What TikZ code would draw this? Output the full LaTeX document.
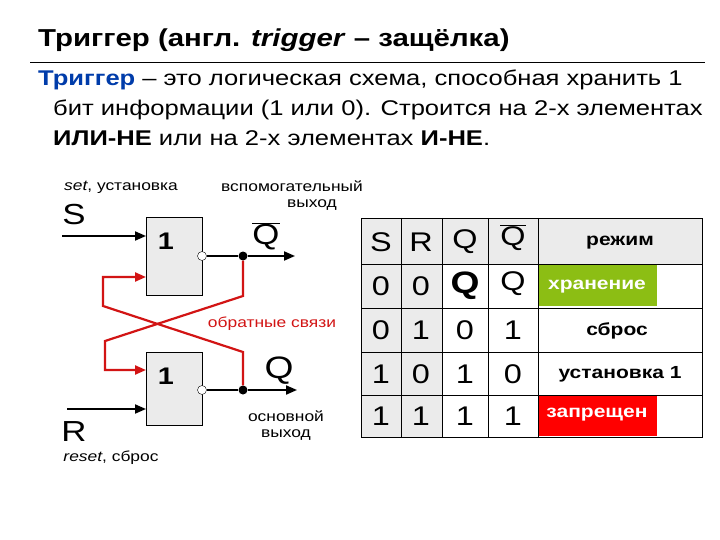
\documentclass[tikz,border=0pt]{standalone}
\usepackage{fontspec}
\usepackage{graphicx}
\setmainfont{Liberation Sans}
\usetikzlibrary{arrows.meta}
\newcommand\hs[1]{\scalebox{1.2}[1]{#1}}
\definecolor{hgrey}{RGB}{235,235,235}
\definecolor{tblue}{RGB}{0,60,170}
\definecolor{fred}{RGB}{210,20,20}
\definecolor{okgreen}{RGB}{140,190,20}
\begin{document}
\begin{tikzpicture}[x=1pt,y=-1pt,
  gate/.style={draw,fill=hgrey,line width=1pt},
  wire/.style={line width=2pt,-{Triangle[length=11pt,width=9pt]}},
  fb/.style={draw=fred,line width=2.2pt},
  fbarrow/.style={fb,-{Triangle[length=11pt,width=9pt]}},
  bubble/.style={circle,draw,fill=white,inner sep=0pt,minimum size=9pt},
  dotn/.style={circle,fill=black,inner sep=0pt,minimum size=9pt},
  lbl/.style={font=\fontsize{14.5}{16}\selectfont,align=center},
  cell/.style={font=\fontsize{27}{29}\selectfont},
  tcell/.style={font=\fontsize{17.5}{19}\selectfont\bfseries}]
\useasboundingbox (0,0) rectangle (720,540);
\fill[white] (0,0) rectangle (720,540);
% title
\node[anchor=west,font=\fontsize{24.5}{27}\selectfont\bfseries,inner sep=0pt] (title) at (38,40) {\hs{Триггер (англ. \textit{trigger} – защёлка)}};
\draw[line width=1pt] (30,63) -- (705,63);
\node[anchor=north west,align=left,font=\fontsize{21.3}{30}\selectfont,inner sep=0pt] (body) at (38,70)
{\hs{\textcolor{tblue}{\textbf{Триггер}} – это логическая схема, способная хранить 1}\\
\hspace*{15pt}\hs{бит информации (1 или 0). Строится на 2-х элементах}\\
\hspace*{15pt}\hs{\textbf{ИЛИ-НЕ} или на 2-х элементах \textbf{И-НЕ}.}};
% gates
\draw[gate] (146,218) rectangle (202,295);
\draw[gate] (146,352) rectangle (202,425);
\node[font=\fontsize{24}{26}\selectfont\bfseries] (g1) at (166,241) {\hs{1}};
\node[font=\fontsize{24}{26}\selectfont\bfseries] (g2) at (166,376) {\hs{1}};
\node[bubble] (b1) at (202,256) {};
\node[bubble] (b2) at (202,390) {};
\node[dotn] (d1) at (243,256) {};
\node[dotn] (d2) at (243,390) {};
\coordinate (o1) at (295,256);
\coordinate (o2) at (297,390);
\coordinate (sin) at (62,236);
\coordinate (sg) at (146,236);
\coordinate (rin) at (67,409);
\coordinate (rg) at (146,409);
\draw[line width=2pt] (b1) -- (d1);
\draw[wire] (d1) -- (o1);
\draw[line width=2pt] (b2) -- (d2);
\draw[wire] (d2) -- (o2);
\draw[wire] (sin) -- (sg);
\draw[wire] (rin) -- (rg);
% feedback
\coordinate (fa1) at (243,296);
\coordinate (fa2) at (105,341);
\coordinate (fa3) at (105,370);
\coordinate (fa4) at (146,370);
\coordinate (fb1) at (243,352);
\coordinate (fb2) at (103,306);
\coordinate (fb3) at (103,277);
\coordinate (fb4) at (146,277);
\draw[fbarrow] (d1.south) -- (fa1) -- (fa2) -- (fa3) -- (fa4);
\draw[fbarrow] (d2.north) -- (fb1) -- (fb2) -- (fb3) -- (fb4);
% labels
\node[lbl] (setl) at (121,187) {\hs{\textit{set}, установка}};
\node[font=\fontsize{29}{31}\selectfont] (S) at (74,215) {\hs{S}};
\node[lbl] (aux) at (292,196) {\hs{вспомогательный}\\\hspace*{40pt}\hs{выход}};
\node[font=\fontsize{29}{31}\selectfont] (qb) at (266,236) {$\overline{\mbox{\hs{Q}}}$};
\node[lbl,text=fred] (fbl) at (272,324) {\hs{обратные связи}};
\node[font=\fontsize{31}{33}\selectfont] (q) at (279,371) {\hs{Q}};
\node[lbl] (main) at (286,426) {\hs{основной}\\\hs{выход}};
\node[font=\fontsize{29}{31}\selectfont] (R) at (74,432) {\hs{R}};
\node[lbl] (resl) at (111,458) {\hs{\textit{reset}, сброс}};
% table
\fill[hgrey] (361,218) rectangle (442,437);
\fill[hgrey] (442,218) rectangle (702,264);
\fill[okgreen] (538,265) rectangle (657,306);
\fill[red] (538,396) rectangle (657,436);
\draw[line width=0.8pt] (361,218) rectangle (702,437);
\foreach \x in {401,442,488,538} \draw[line width=0.8pt] (\x,218) -- (\x,437);
\foreach \y in {264,308,352,395} \draw[line width=0.8pt] (361,\y) -- (702,\y);
\node[cell] (h1) at (381,242) {\hs{S}};
\node[cell] (h2) at (421,242) {\hs{R}};
\node[cell] (h3) at (465,242) {\hs{Q}};
\node[cell] (h4) at (513,238) {$\overline{\mbox{\hs{Q}}}$};
\node[tcell] (h5) at (620,243) {\hs{режим}};
\foreach \r/\y/\a/\b/\c/\d in {1/286/0/0/{}/{},2/330/0/1/0/1,3/374/1/0/1/0,4/416/1/1/1/1}{
  \node[cell] (s\r) at (381,\y) {\hs{\a}};
  \node[cell] (r\r) at (421,\y) {\hs{\b}};
  \node[cell] (q\r) at (465,\y) {\hs{\c}};
  \node[cell] (n\r) at (513,\y) {\hs{\d}};
}
\node[font=\fontsize{31}{33}\selectfont\bfseries] (qq) at (465,286) {\hs{Q}};
\node[cell] (nq) at (513,284) {\hs{Q}};
\node[tcell,text=white] (m1) at (597,287) {\hs{хранение}};
\node[tcell] (m2) at (617,331) {\hs{сброс}};
\node[tcell] (m3) at (620,374) {\hs{установка 1}};
\node[tcell,text=white] (m4) at (597,415) {\hs{запрещен}};
\end{tikzpicture}
\end{document}
